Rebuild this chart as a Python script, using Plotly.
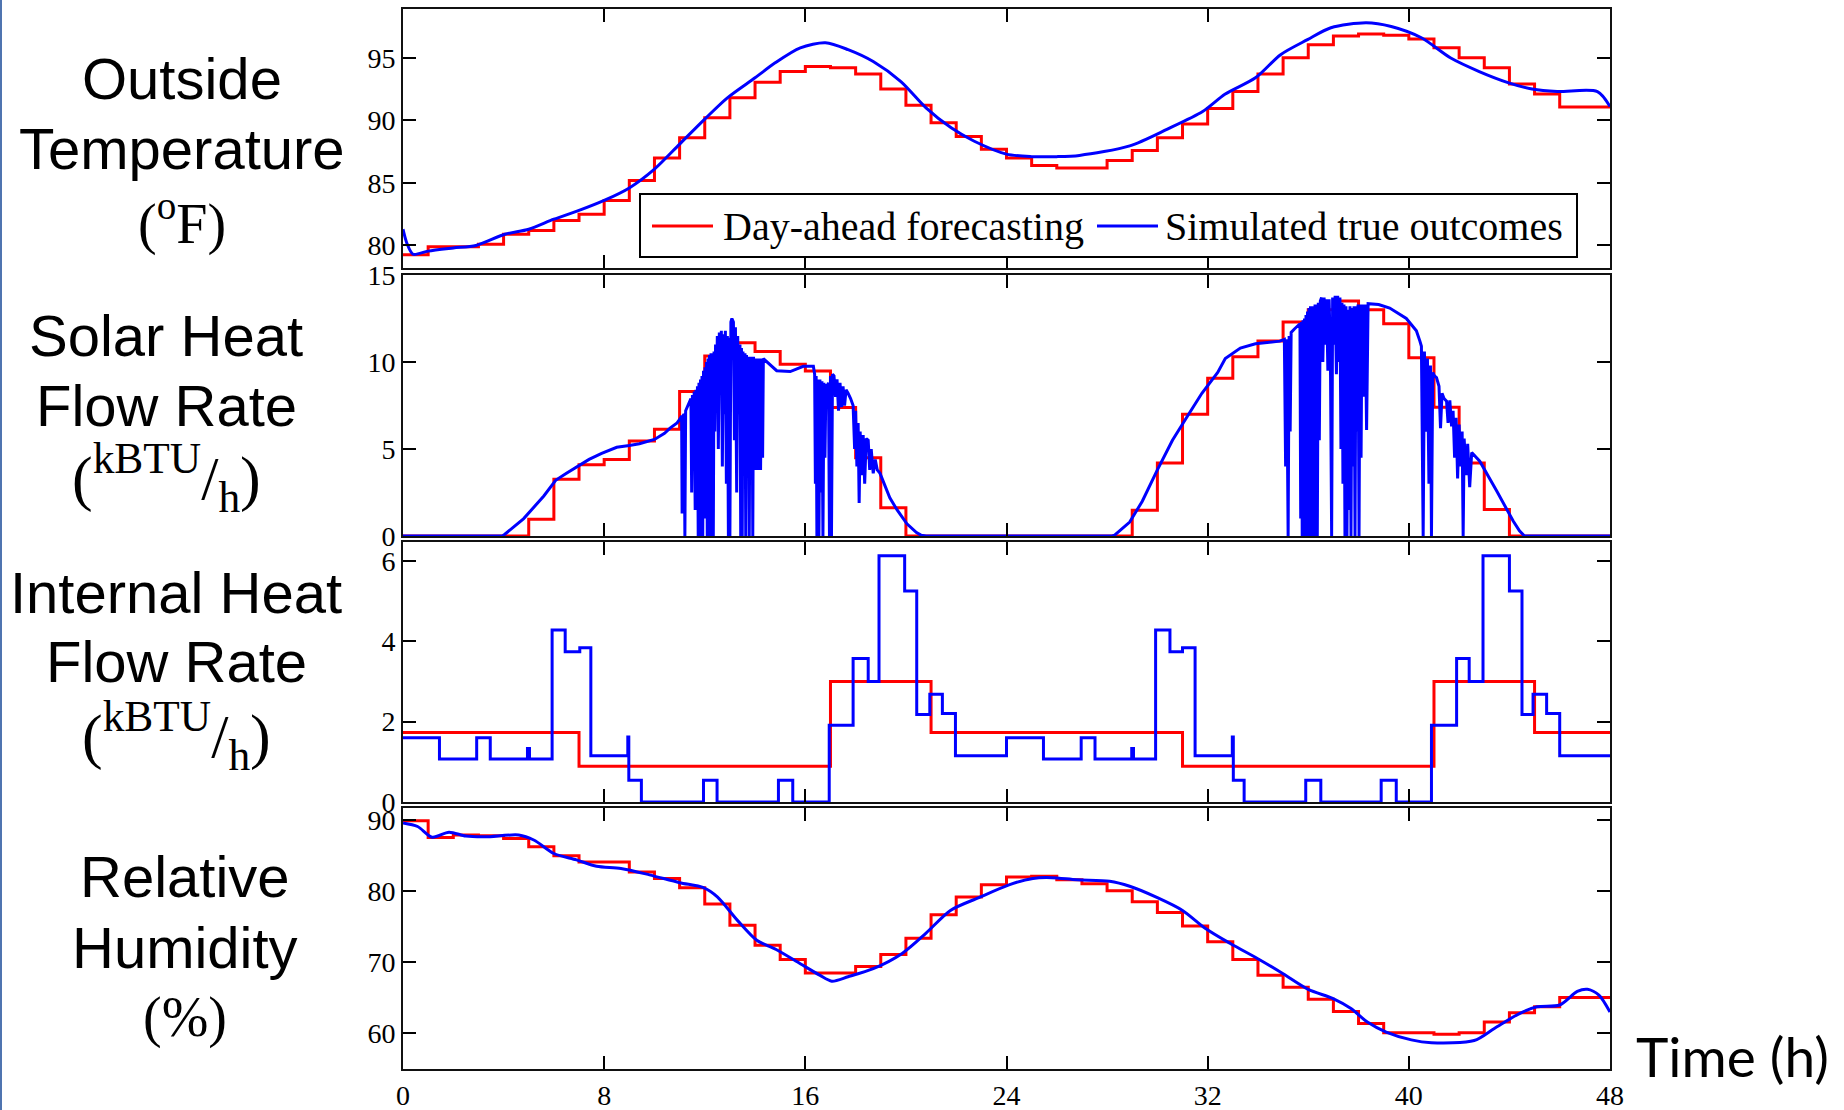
import plotly.graph_objects as go

# ---------------- DATA ----------------
hours = list(range(49))

temp_fc = [79.25, 79.9, 79.9, 80.1, 80.9, 81.2, 82.0, 82.5, 83.6, 85.2,
           87.0, 88.6, 90.2, 91.8, 93.05, 93.9, 94.3, 94.2, 93.7, 92.5,
           91.2, 89.8, 88.7, 87.7, 87.0, 86.4, 86.2, 86.2, 86.8, 87.6,
           88.6, 89.7, 90.95, 92.3, 93.7, 95.0, 96.05, 96.75, 96.9, 96.8,
           96.5, 95.8, 95.0, 94.2, 92.9, 92.1, 91.06, 91.06]
temp_t = [0, 0.15, 0.4, 1.0, 2.0, 2.9, 4.05, 5.0, 6.0, 7.0, 8.0, 9.0, 10.0, 11.0, 12.0,
          12.9, 14.0, 14.8, 15.8, 16.8, 17.7, 18.7, 19.8, 20.8, 21.8, 22.7, 24.0, 25.0,
          26.0, 26.9, 28.9, 30.4, 31.8, 32.7, 33.9, 34.9, 35.97, 36.9, 38.3, 39.3, 40.5,
          41.65, 42.8, 43.97, 44.9, 45.9, 47.5, 48.0]
temp_true = [81.3, 80.2, 79.3, 79.55, 79.8, 80.0, 80.9, 81.3, 82.1, 82.8, 83.6, 84.6, 86.1,
             88.1, 90.1, 91.8, 93.4, 94.6, 95.8, 96.2, 95.65, 94.7, 93.1, 91.0, 89.4, 88.35,
             87.3, 87.1, 87.1, 87.2, 87.96, 89.3, 90.7, 92.1, 93.4, 95.25, 96.45, 97.4, 97.8,
             97.5, 96.6, 95.0, 93.9, 93.0, 92.5, 92.3, 92.3, 91.1]

solar_fc = [0, 0, 0, 0, 0, 0.96, 3.26, 4.1, 4.4, 5.46, 6.13, 8.3, 10.34, 11.1, 10.6, 9.87,
            9.48, 7.38, 4.5, 1.63, 0, 0, 0, 0, 0, 0, 0, 0, 0, 1.48, 4.2, 7.0, 9.06, 10.3,
            11.2, 12.3, 13.0, 13.5, 13.0, 12.2, 10.25, 7.4, 4.2, 1.53, 0, 0, 0, 0]
# simulated solar heat flow, [hour, kBTU/h] pairs
solar_day1 = [
    [0, 0], [3.95, 0], [4.05, 0.1], [4.8, 1.0], [5.6, 2.3], [6.07, 3.2], [6.5, 3.6], [6.94, 4.0],
    [7.4, 4.4], [7.9, 4.75], [8.5, 5.1], [9.0, 5.2], [9.4, 5.3], [10.0, 5.55], [10.4, 5.9],
    [10.62, 6.2], [10.9, 6.5], [11.05, 6.8], [11.08, 6.9], [11.10, 1.3], [11.13, 6.9], [11.18, 7.0],
    [11.21, 0], [11.24, 7.2], [11.30, 7.4], [11.38, 7.6], [11.45, 7.9], [11.48, 2.5], [11.51, 8.1],
    [11.55, 4.0], [11.58, 8.3], [11.62, 1.5], [11.65, 8.4], [11.68, 3.0], [11.71, 8.6], [11.74, 0],
    [11.77, 8.8], [11.80, 0], [11.83, 9.0], [11.86, 2.0], [11.89, 9.2], [11.92, 0], [11.95, 9.5],
    [11.98, 1.0], [12.01, 9.7], [12.04, 4.0], [12.07, 10.0], [12.10, 0], [12.13, 10.2], [12.16, 3.0],
    [12.19, 10.4], [12.22, 0], [12.25, 10.5], [12.28, 2.0], [12.31, 10.4], [12.34, 0], [12.37, 10.6],
    [12.40, 6.0], [12.43, 11.0], [12.47, 8.0], [12.50, 11.5], [12.54, 5.0], [12.58, 11.7], [12.62, 9.0],
    [12.66, 11.8], [12.70, 4.0], [12.74, 11.6], [12.78, 7.0], [12.82, 11.8], [12.86, 3.0], [12.90, 11.5],
    [12.94, 0], [12.97, 11.4], [13.00, 0], [13.04, 12.3], [13.08, 12.5], [13.14, 12.3], [13.18, 5.5],
    [13.22, 12.0], [13.27, 2.5], [13.31, 11.5], [13.36, 7.0], [13.40, 11.0], [13.43, 0], [13.46, 10.8],
    [13.49, 0], [13.52, 10.6], [13.56, 4.0], [13.60, 10.5], [13.63, 0], [13.66, 10.4], [13.70, 3.8],
    [13.74, 10.3], [13.77, 0], [13.80, 10.3], [13.84, 3.8], [13.88, 10.3], [13.91, 0], [13.94, 10.3],
    [13.98, 3.8], [14.02, 10.2], [14.06, 3.8], [14.10, 10.2], [14.14, 3.8], [14.18, 10.2], [14.22, 3.8],
    [14.26, 10.2], [14.30, 4.5], [14.33, 10.2], [14.86, 9.5], [15.4, 9.45], [15.92, 9.75], [16.32, 9.75],
    [16.37, 9.3], [16.40, 3.0], [16.43, 9.2], [16.46, 0], [16.50, 9.0], [16.54, 0], [16.58, 9.0],
    [16.62, 2.5], [16.66, 8.9], [16.70, 0], [16.74, 8.8], [16.78, 4.5], [16.82, 8.7], [16.86, 8.6],
    [16.92, 8.8], [16.96, 0], [17.00, 9.2], [17.04, 0], [17.08, 9.3], [17.14, 9.2], [17.20, 8.0],
    [17.26, 9.0], [17.32, 7.2], [17.38, 8.8], [17.44, 7.4], [17.50, 8.6], [17.56, 7.5], [17.62, 8.4],
    [17.70, 8.2], [17.80, 7.9], [17.90, 7.5], [17.96, 5.0], [18.00, 7.2], [18.05, 4.0], [18.10, 6.5],
    [18.14, 1.9], [18.18, 6.0], [18.24, 3.5], [18.30, 5.8], [18.36, 3.0], [18.42, 5.6], [18.50, 5.5],
    [18.56, 3.8], [18.62, 5.0], [18.70, 3.6], [18.78, 4.4], [18.86, 3.8], [18.97, 3.6], [19.36, 2.2],
    [19.65, 1.5], [20.04, 0.7], [20.42, 0.2], [20.6, 0.05], [20.8, 0],
]
solar_day2 = [
    [28.2, 0], [28.3, 0.05], [28.9, 0.8], [29.4, 2.0], [30.0, 3.8], [30.6, 5.5], [31.2, 6.9],
    [31.77, 8.2], [32.4, 9.4], [32.7, 10.2], [33.3, 10.8], [33.9, 11.05], [34.87, 11.2],
    [35.05, 11.3], [35.10, 4.0], [35.14, 11.3], [35.20, 0], [35.24, 11.5], [35.28, 6.0], [35.32, 11.7],
    [35.45, 11.9], [35.58, 12.1], [35.67, 12.2], [35.70, 1.0], [35.73, 12.3], [35.76, 0], [35.79, 12.4],
    [35.82, 5.0], [35.85, 12.5], [35.88, 0], [35.91, 12.7], [35.94, 2.0], [35.97, 12.9], [36.00, 0],
    [36.03, 13.1], [36.06, 4.0], [36.09, 13.2], [36.12, 0], [36.15, 13.2], [36.18, 7.0], [36.21, 13.2],
    [36.24, 0], [36.27, 13.3], [36.30, 3.0], [36.33, 13.3], [36.36, 0], [36.40, 13.4], [36.44, 5.5],
    [36.48, 13.5], [36.53, 13.7], [36.58, 10.0], [36.63, 13.7], [36.68, 11.0], [36.73, 13.6],
    [36.78, 9.5], [36.83, 13.6], [36.88, 10.5], [36.93, 0], [36.97, 13.7], [37.02, 11.0], [37.07, 13.8],
    [37.12, 9.3], [37.17, 13.8], [37.22, 10.0], [37.26, 13.7], [37.30, 5.0], [37.34, 13.4], [37.38, 3.0],
    [37.42, 13.3], [37.46, 0], [37.50, 13.2], [37.54, 0], [37.58, 13.0], [37.62, 1.5], [37.66, 13.2],
    [37.70, 0], [37.74, 13.1], [37.78, 4.0], [37.82, 13.2], [37.86, 0], [37.90, 13.2], [37.94, 6.0],
    [37.98, 13.3], [38.02, 0], [38.06, 13.3], [38.10, 4.5], [38.14, 13.3], [38.20, 8.0], [38.26, 13.3],
    [38.32, 6.1], [38.38, 13.35], [38.8, 13.3], [39.24, 13.1], [39.9, 12.5], [40.3, 11.8], [40.44, 11.2],
    [40.50, 10.9], [40.57, 0], [40.62, 10.6], [40.68, 6.0], [40.74, 10.2], [40.80, 3.0], [40.86, 9.8],
    [40.90, 0], [40.95, 9.4], [41.02, 9.2], [41.10, 9.1], [41.20, 8.6], [41.26, 6.2], [41.32, 8.2],
    [41.40, 7.9], [41.50, 7.75], [41.56, 6.5], [41.63, 7.8], [41.70, 6.3], [41.76, 7.2], [41.82, 4.5],
    [41.88, 6.8], [41.94, 3.3], [42.00, 6.4], [42.06, 4.0], [42.12, 6.0], [42.16, 0], [42.20, 5.6],
    [42.28, 3.5], [42.34, 5.3], [42.42, 2.8], [42.50, 4.8], [42.82, 4.3], [43.49, 2.6], [44.15, 0.86],
    [44.4, 0.3], [44.6, 0], [48.0, 0],
]

internal_fc = [1.73] * 7 + [0.89] * 10 + [3.0] * 4 + [1.73] * 10 + [0.89] * 10 + [3.0] * 4 + [1.73] * 3
internal_t = [0, 1.45, 2.93, 3.47, 4.95, 5.03, 5.93, 6.45, 7.03, 7.47, 8.94, 8.98, 9.48, 11.95,
              12.49, 14.93, 15.5, 16.95, 17.9, 18.5, 18.93, 19.95, 20.43, 20.95, 21.45, 21.97,
              24.0, 25.47, 26.97, 27.52, 28.98, 29.05, 29.93, 30.5, 31.0, 31.5, 32.98, 33.02,
              33.45, 35.9, 36.5, 38.9, 39.5, 40.9, 41.9, 42.4, 42.95, 44.0, 44.5, 44.94, 45.48,
              46.0, 48.0]
internal_true = [1.6, 1.07, 1.6, 1.07, 1.33, 1.07, 4.28, 3.74, 3.84, 1.15, 1.62, 0.54, 0, 0.54,
                 0, 0.54, 0, 1.91, 3.57, 3.0, 6.13, 5.25, 2.18, 2.68, 2.2, 1.15,
                 1.6, 1.07, 1.6, 1.07, 1.33, 1.07, 4.28, 3.74, 3.84, 1.15, 1.62, 0.54,
                 0, 0.54, 0, 0.54, 0, 1.91, 3.57, 3.0, 6.13, 5.25, 2.18, 2.68, 2.2,
                 1.15, 1.15]

hum_fc = [89.9, 87.56, 87.9, 87.8, 87.4, 86.25, 84.98, 84.1, 84.1, 82.7,
          81.8, 80.5, 78.2, 75.2, 72.4, 70.4, 68.5, 68.5, 69.4, 71.1,
          73.4, 76.7, 79.2, 80.9, 82.0, 82.1, 81.6, 81.05, 80.06, 78.5,
          77.0, 75.1, 72.9, 70.4, 68.2, 66.5, 64.8, 63.1, 61.4, 60.1,
          60.1, 59.9, 60.1, 61.6, 62.9, 63.75, 65.06, 65.06]
hum_t = [0, 0.58, 1.16, 1.83, 2.5, 3.28, 4.6, 5.2, 6.0, 6.9, 7.7, 8.67, 9.8, 11.0, 11.95,
         12.5, 13.3, 14.07, 14.84, 15.8, 16.57, 17.05, 17.7, 18.7, 19.85, 20.8, 21.77, 22.9,
         24.1, 25.05, 25.8, 26.8, 28.1, 28.9, 30.0, 31.0, 31.9, 32.9, 34.1, 35.0, 36.0, 36.99,
         37.7, 38.35, 39.1, 40.1, 40.9, 42.6, 43.4, 44.4, 45.1, 46.0, 46.7, 47.1, 47.56, 48.0]
hum_true = [89.6, 89.1, 87.6, 88.3, 87.75, 87.65, 87.9, 87.2, 85.3, 84.4, 83.5, 83.2, 82.3,
            81.2, 80.5, 79.2, 75.9, 73.1, 71.8, 69.8, 68.2, 67.35, 67.97, 69.1, 71.25, 74.1,
            77.3, 79.1, 80.9, 81.8, 81.9, 81.6, 81.4, 80.7, 79.1, 77.3, 74.8, 72.65, 70.3,
            68.4, 66.2, 64.9, 63.5, 61.6, 60.2, 59.1, 58.7, 59.0, 60.7, 62.8, 63.75, 64.0,
            65.9, 66.2, 65.4, 63.0]

x_ticks = [0, 8, 16, 24, 32, 40, 48]
y_ticks = [[80, 85, 90, 95], [0, 5, 10, 15], [0, 2, 4, 6], [60, 70, 80, 90]]
y_ranges = [[78.2, 98.9], [0, 15], [0, 6.47], [55, 91.7]]
legend_names = ["Day-ahead forecasting", "Simulated true outcomes"]

# ---------------- LAYOUT HELPERS ----------------
W, H = 1844, 1110
L, R, T, B = 403, 234, 9, 41
PW, PH = W - L - R, H - T - B
def px(x):
    return (x - L) / PW
def py(y):
    return (H - B - y) / PH

panels_px = [(9, 268), (275, 536), (542, 802), (808, 1069)]
RED, BLUE = "#ff0000", "#0000ff"

solar_pts = solar_day1 + solar_day2
solar_t = [p[0] for p in solar_pts]
solar_true = [p[1] for p in solar_pts]

fig = go.Figure()
fc_list = [temp_fc, solar_fc, internal_fc, hum_fc]
true_list = [(temp_t, temp_true, "spline"), (solar_t, solar_true, "linear"),
             (internal_t, internal_true, "hv"), (hum_t, hum_true, "spline")]

for i in range(4):
    xa = "x" if i == 0 else f"x{i+1}"
    ya = "y" if i == 0 else f"y{i+1}"
    fc = fc_list[i]
    fig.add_trace(go.Scatter(x=hours, y=fc + [fc[-1]], mode="lines",
                             line=dict(color=RED, width=3, shape="hv"),
                             name=legend_names[0], showlegend=False, xaxis=xa, yaxis=ya))
for i in range(4):
    xa = "x" if i == 0 else f"x{i+1}"
    ya = "y" if i == 0 else f"y{i+1}"
    t, v, shp = true_list[i]
    line = dict(color=BLUE, width=3, shape=shp)
    if shp == "spline":
        line["smoothing"] = 0.8
    fig.add_trace(go.Scatter(x=t, y=v, mode="lines", line=line,
                             name=legend_names[1], showlegend=False, xaxis=xa, yaxis=ya))

tickfont = dict(family="Liberation Serif", size=28, color="black")
layout = dict(width=W, height=H, margin=dict(l=L, r=R, t=T, b=B, autoexpand=False),
              paper_bgcolor="white", plot_bgcolor="white", showlegend=False)
for i in range(4):
    top, bot = panels_px[i]
    xk = "xaxis" if i == 0 else f"xaxis{i+1}"
    yk = "yaxis" if i == 0 else f"yaxis{i+1}"
    layout[xk] = dict(domain=[0, 1], range=[0, 48], tickvals=x_ticks, ticks="inside", ticklen=13,
                      tickwidth=1.5, tickcolor="black", showline=True, linecolor="#111", linewidth=2,
                      mirror="ticks", showgrid=False, zeroline=False, showticklabels=(i == 3),
                      tickfont=tickfont, anchor="y" if i == 0 else f"y{i+1}",
                      ticklabelstandoff=0, automargin=False)
    if i > 0:
        layout[xk]["matches"] = "x"
    layout[yk] = dict(domain=[py(bot), py(top)], range=y_ranges[i], tickvals=y_ticks[i],
                      ticks="inside", ticklen=13, tickwidth=1.5, tickcolor="black", showline=True,
                      linecolor="#111", linewidth=2, mirror="ticks", showgrid=False, zeroline=False,
                      tickfont=tickfont, anchor="x" if i == 0 else f"x{i+1}", automargin=False)
fig.update_layout(**layout)

# legend box drawn in the top panel (paper coordinates)
fig.add_shape(type="rect", xref="paper", yref="paper", x0=px(640), x1=px(1577), y0=py(257), y1=py(194),
              line=dict(color="black", width=2), fillcolor="white", layer="above")
fig.add_shape(type="line", xref="paper", yref="paper", x0=px(652), x1=px(713), y0=py(226), y1=py(226),
              line=dict(color=RED, width=3), layer="above")
fig.add_shape(type="line", xref="paper", yref="paper", x0=px(1097), x1=px(1158), y0=py(226), y1=py(226),
              line=dict(color=BLUE, width=3), layer="above")
legfont = dict(family="Liberation Serif", size=40, color="black")
fig.add_annotation(text=legend_names[0], x=px(721), y=py(226), xref="paper", yref="paper",
                   xanchor="left", yanchor="middle", showarrow=False, font=legfont)
fig.add_annotation(text=legend_names[1], x=px(1163), y=py(226), xref="paper", yref="paper",
                   xanchor="left", yanchor="middle", showarrow=False, font=legfont)

sans = dict(family="Liberation Sans", size=58, color="black")
serif = dict(family="Liberation Serif", size=56, color="black")
serif_u = dict(family="Liberation Serif", size=62, color="black")
labels = [
    ("Outside", 182, 79, sans), ("Temperature", 182, 149, sans), ("(<sup>o</sup>F)", 182, 220, serif),
    ("Solar Heat", 166, 335, sans), ("Flow Rate", 166, 406, sans),
    ("(<sup>kBTU</sup>/<sub>h</sub>)", 166, 478, serif_u),
    ("Internal Heat", 176, 592, sans), ("Flow Rate", 176, 662, sans),
    ("(<sup>kBTU</sup>/<sub>h</sub>)", 176, 735, serif_u),
    ("Relative", 185, 876, sans), ("Humidity", 185, 947, sans), ("(%)", 185, 1017, serif),
    ("Time (h)", 1732, 1056, dict(family="Lato", size=55, color="black")),
]
for txt, x, y, f in labels:
    fig.add_annotation(text=txt, x=px(x), y=py(y), xref="paper", yref="paper",
                       xanchor="center", yanchor="middle", showarrow=False, font=f)

fig.add_shape(type="line", xref="paper", yref="paper", x0=px(1), x1=px(1), y0=py(0), y1=py(H),
              line=dict(color="#4f74b0", width=2))

fig.write_html("out.html")
